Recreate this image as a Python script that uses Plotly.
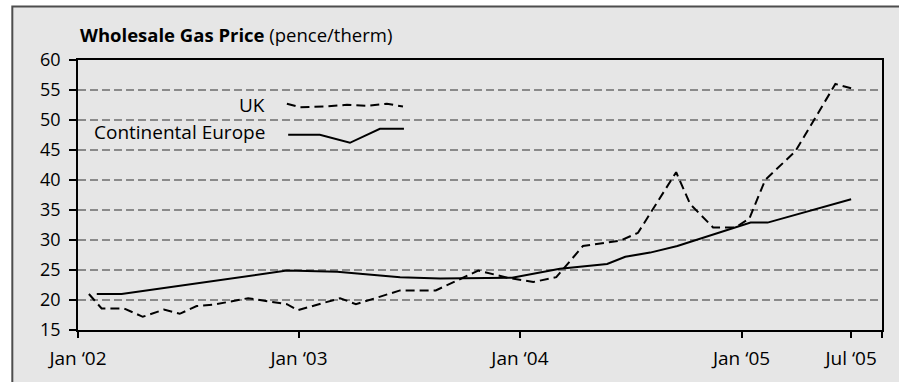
import plotly.graph_objects as go

# Wholesale gas price, pence/therm
uk_dates = [
    "2002-01-19", "2002-02-09", "2002-03-18", "2002-04-18", "2002-05-23",
    "2002-06-18", "2002-07-16", "2002-08-12", "2002-10-09", "2002-12-12",
    "2002-12-30", "2003-03-10", "2003-04-05", "2003-06-17", "2003-08-15",
    "2003-10-24", "2003-12-12", "2004-01-23", "2004-03-01", "2004-04-14",
    "2004-06-15", "2004-07-14", "2004-09-15", "2004-10-08", "2004-11-15",
    "2004-12-22", "2005-01-14", "2005-02-09", "2005-03-31", "2005-06-05",
    "2005-07-01",
]
uk_price = [
    21.0, 18.6, 18.6, 17.2, 18.4,
    17.7, 19.0, 19.2, 20.3, 19.3,
    18.3, 20.3, 19.3, 21.6, 21.6,
    24.9, 23.7, 23.0, 23.8, 29.0,
    29.9, 31.2, 41.3, 36.0, 32.1,
    32.1, 33.6, 40.0, 44.8, 56.0,
    55.3,
]

europe_dates = [
    "2002-02-01", "2002-03-14", "2002-12-12", "2003-03-05", "2003-06-17",
    "2003-08-22", "2003-12-19", "2004-03-07", "2004-05-24", "2004-06-23",
    "2004-08-03", "2004-09-17", "2005-01-16", "2005-02-13", "2005-07-01",
]
europe_price = [
    21.0, 21.0, 24.9, 24.7, 23.8,
    23.6, 23.7, 25.2, 26.0, 27.2,
    27.9, 29.0, 32.9, 32.9, 36.8,
]

x_tick_dates = ["2002-01-01", "2003-01-01", "2004-01-01", "2005-01-01", "2005-07-01", "2005-08-21"]
x_tick_text = ["Jan \u201802", "Jan \u201803", "Jan \u201804", "Jan \u201805", "Jul \u201805", ""]
y_ticks = [15, 20, 25, 30, 35, 40, 45, 50, 55, 60]

series_names = ["UK", "Continental Europe"]

FONT = "Open Sans"
BG = "#e6e6e6"

fig = go.Figure()
fig.add_trace(go.Scatter(
    x=uk_dates, y=uk_price, mode="lines", name=series_names[0],
    line=dict(color="black", width=2, dash="9px,5px"), showlegend=False,
))
fig.add_trace(go.Scatter(
    x=europe_dates, y=europe_price, mode="lines", name=series_names[1],
    line=dict(color="black", width=2), showlegend=False,
))

# framed panel behind the chart
shapes = [dict(
    type="rect", xref="paper", yref="paper", layer="below",
    x0=-0.0817, x1=1.2, y0=-0.3, y1=1.198,
    fillcolor=BG, line=dict(color="#4d4d4d", width=2),
)]

# hand-drawn legend keys
uk_key = [(0.2598, 0.8378), (0.2760, 0.8252), (0.3096, 0.8278), (0.3345, 0.8341),
          (0.3593, 0.8304), (0.3842, 0.8378), (0.4042, 0.8278)]
eu_key = [(0.2614, 0.7230), (0.3008, 0.7230), (0.3382, 0.6933), (0.3755, 0.7452),
          (0.4054, 0.7452)]


def key_path(pts):
    return "M " + " L ".join(f"{x},{y}" for x, y in pts)


shapes.append(dict(type="path", xref="paper", yref="paper", path=key_path(uk_key),
                   line=dict(color="black", width=2, dash="9px,5px")))
shapes.append(dict(type="path", xref="paper", yref="paper", path=key_path(eu_key),
                   line=dict(color="black", width=2)))

annotations = [
    dict(xref="paper", yref="paper", x=0.0, y=1.095, xanchor="left", yanchor="middle",
         text="<b>Wholesale Gas Price</b> (pence/therm)", showarrow=False,
         font=dict(family=FONT, size=18.5, color="black")),
    dict(xref="paper", yref="paper", x=0.2345, y=0.8315, xanchor="right", yanchor="middle",
         text=series_names[0], showarrow=False,
         font=dict(family=FONT, size=19, color="black")),
    dict(xref="paper", yref="paper", x=0.2345, y=0.733, xanchor="right", yanchor="middle",
         text=series_names[1], showarrow=False,
         font=dict(family=FONT, size=19, color="black")),
]

fig.update_layout(
    width=899, height=382,
    margin=dict(l=78, r=17, t=60, b=52),
    paper_bgcolor="white", plot_bgcolor=BG,
    font=dict(family=FONT, size=18, color="black"),
    shapes=shapes, annotations=annotations,
    showlegend=False,
    xaxis=dict(
        type="date", range=["2002-01-01", "2005-08-21"],
        tickmode="array", tickvals=x_tick_dates, ticktext=x_tick_text,
        ticks="outside", ticklen=6, tickwidth=1.5, tickcolor="black",
        ticklabelstandoff=4,
        showline=True, linecolor="black", linewidth=1.5, mirror=True,
        showgrid=False, zeroline=False,
        tickfont=dict(family=FONT, size=19, color="black"),
    ),
    yaxis=dict(
        range=[15, 60], tickmode="array", tickvals=y_ticks,
        ticks="outside", ticklen=7, tickwidth=1.5, tickcolor="black",
        ticklabelstandoff=5,
        showline=True, linecolor="black", linewidth=1.5, mirror=True,
        showgrid=True, gridcolor="#8a8a8a", gridwidth=1.5, griddash="8px,4px",
        zeroline=False,
        tickfont=dict(family=FONT, size=18, color="black"),
    ),
)

fig.write_html("out.html")
